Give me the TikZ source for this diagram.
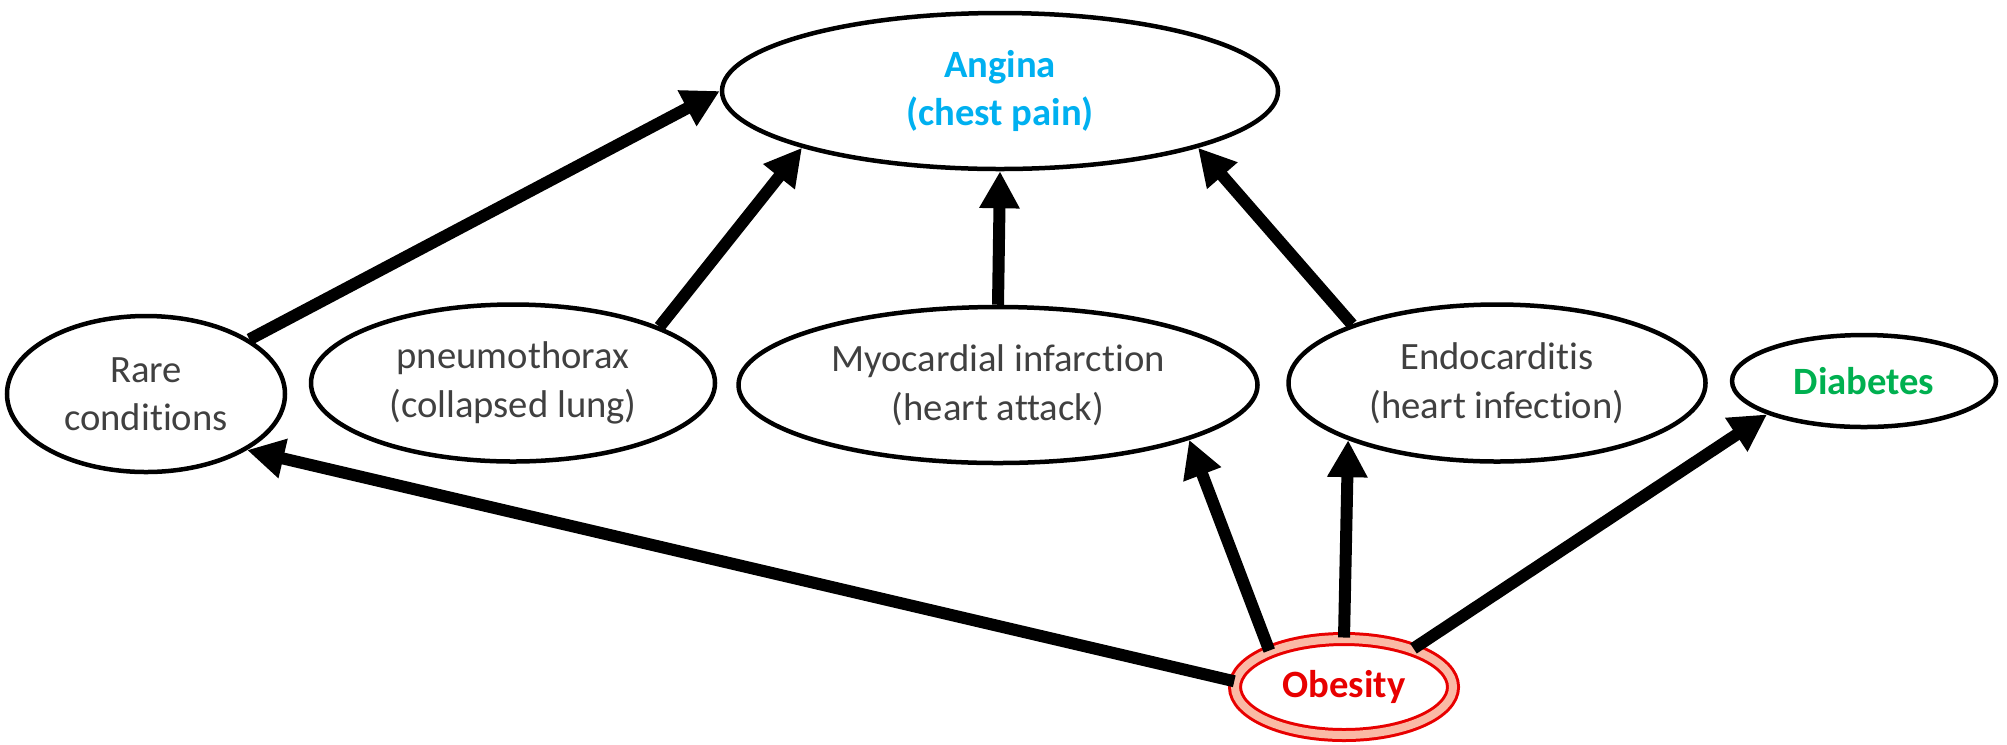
\documentclass[tikz,border=0pt]{standalone}
\usepackage{fontspec}
\setmainfont{Carlito}[Ligatures=NoCommon]
\usetikzlibrary{shapes.geometric,arrows.meta}
\definecolor{txtgray}{RGB}{64,64,64}
\definecolor{anginablue}{RGB}{0,176,240}
\definecolor{diabgreen}{RGB}{0,176,80}
\definecolor{obesered}{RGB}{232,0,0}
\definecolor{obesepink}{RGB}{250,185,165}
\newcommand{\condfont}{\fontsize{11}{13.8}\selectfont}
\begin{document}
\begin{tikzpicture}[
  cond/.style={ellipse,draw,line width=0.45mm,inner sep=0pt,align=center,text=txtgray,font=\condfont},
  cause/.style={line width=1.2mm,-{Triangle[length=3.7mm,width=3.8mm]}}
]
\useasboundingbox (0,0) rectangle (20.07,-7.44);
%top node
\node[cond,minimum width=5.56cm,minimum height=1.56cm,text=anginablue,font=\bfseries\condfont] (angina) at (10.00,-0.91) {Angina\\(chest pain)};
%middle row
\node[cond,minimum width=2.78cm,minimum height=1.56cm] (rare) at (1.46,-3.94) {Rare\\conditions};
\node[cond,minimum width=4.04cm,minimum height=1.57cm] (pneumo) at (5.13,-3.83) {pneumothorax\\(collapsed lung)};
\node[cond,minimum width=5.19cm,minimum height=1.56cm] (myo) at (9.98,-3.85) {Myocardial infarction\\(heart attack)};
\node[cond,minimum width=4.17cm,minimum height=1.57cm] (endo) at (14.97,-3.83) {Endocarditis\\(heart infection)};
\node[cond,minimum width=2.64cm,minimum height=0.92cm,text=diabgreen,font=\bfseries\condfont] (diabetes) at (18.64,-3.81) {Diabetes};
%risk factor, double red border
\node[ellipse,draw=obesered,line width=0.3mm,double=obesepink,double distance=0.8mm,fill=white,inner sep=0pt,
  minimum width=2.18cm,minimum height=0.96cm,text=obesered,font=\bfseries\condfont] (obesity) at (13.44,-6.87) {Obesity};
%arrows into angina
\draw[cause] (rare) -- (angina.west);
\draw[cause] (pneumo.21) -- (angina.196);
\draw[cause] (myo.north) -- (angina.south);
\draw[cause] (endo.158) -- (angina.344);
%arrows out of obesity
\draw[cause] (obesity.177) -- (rare.331);
\draw[cause] (obesity.154) -- (myo.344);
\draw[cause] (obesity.north) -- (endo.201);
\draw[cause] (obesity.29) -- (diabetes.199);
\end{tikzpicture}
\end{document}
